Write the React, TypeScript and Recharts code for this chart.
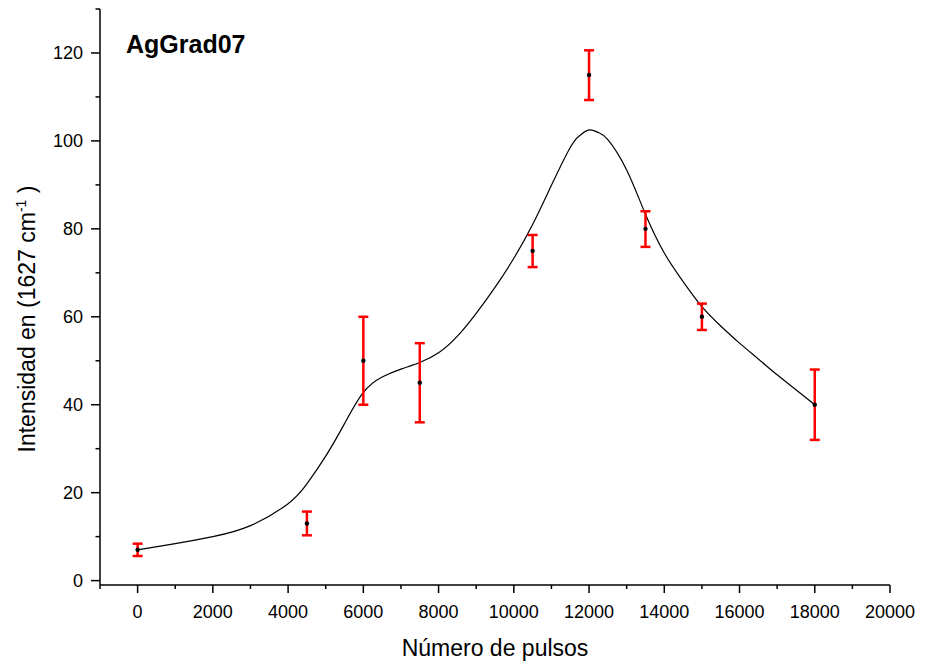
import React from "react";
import { ComposedChart, ErrorBar, Line, Scatter, XAxis, YAxis } from "recharts";

// measured points
const pulses = [0, 4500, 6000, 7500, 10500, 12000, 13500, 15000, 18000];
const intensity = [7, 13, 50, 45, 75, 115, 80, 60, 40];
const lowerBound = [5.6, 10.3, 40, 36, 71.3, 109.3, 75.9, 57, 32];
const upperBound = [8.4, 15.7, 60, 54, 78.6, 120.6, 84, 63, 48];

// fitted curve
const fitX = [
  0, 1000, 2000, 3000, 4000, 4500, 5000, 5500, 6000, 6500, 7000, 7500, 8000, 8500,
  9000, 9500, 10000, 10500, 11000, 11500, 11750, 12000, 12250, 12500, 13000, 13500,
  14000, 14500, 15000, 15500, 16000, 16500, 17000, 17500, 18000,
];
const fitY = [
  7, 8.4, 10, 12.5, 17.5, 22, 28.3, 35.7, 42.8, 46.3, 48.1, 49.6, 51.8, 55.6,
  60.8, 66.7, 73.3, 81, 89.9, 98.5, 101.2, 102.5, 101.9, 100.3, 93.4, 83.3,
  74.5, 68, 62.3, 57.9, 54, 50.4, 46.8, 43.4, 40,
];

const xTicks = [-1000, 0, 1000, 2000, 3000, 4000, 5000, 6000, 7000, 8000, 9000, 10000, 11000, 12000, 13000, 14000, 15000, 16000, 17000, 18000, 19000, 20000];
const yTicks = [0, 10, 20, 30, 40, 50, 60, 70, 80, 90, 100, 110, 120, 130];

const points = pulses.map((x, i) => ({
  x,
  y: intensity[i],
  err: [intensity[i] - lowerBound[i], upperBound[i] - intensity[i]],
}));
const curve = fitX.map((x, i) => ({ x, y: fitY[i] }));

const font = "'Liberation Sans', Arial, sans-serif";

const XTick = ({ x, y, payload }: any) => {
  const v = payload.value;
  const major = v % 2000 === 0;
  return (
    <g>
      <line x1={x} x2={x} y1={y} y2={y + (major ? 8 : 4)} stroke="#000" strokeWidth={1.5} />
      {major && v >= 0 && (
        <text x={x} y={y + 33} textAnchor="middle" fontSize={18} fontFamily={font} fill="#000">
          {v}
        </text>
      )}
    </g>
  );
};

const YTick = ({ x, y, payload }: any) => {
  const v = payload.value;
  const major = v % 20 === 0;
  return (
    <g>
      <line x1={x} x2={x - (major ? 9 : 4.5)} y1={y} y2={y} stroke="#000" strokeWidth={1.5} />
      {major && (
        <text x={x - 17} y={y + 6.5} textAnchor="end" fontSize={18} fontFamily={font} fill="#000">
          {v}
        </text>
      )}
    </g>
  );
};

export default function App() {
  return (
    <div style={{ position: "absolute", left: 0, top: 0, width: 925, height: 669, background: "#fff" }}>
      <ComposedChart width={925} height={669} margin={{ top: 9, right: 35, bottom: 0, left: 0 }}>
        <XAxis
          type="number"
          dataKey="x"
          domain={[-1000, 20000]}
          ticks={xTicks}
          interval={0}
          height={84}
          tickSize={0}
          tickMargin={0}
          tickLine={false}
          tick={<XTick />}
          axisLine={{ stroke: "#000", strokeWidth: 1.5 }}
          allowDataOverflow
          label={{
            content: () => (
              <text x={495} y={656} textAnchor="middle" fontSize={23} fontFamily={font} fill="#000">
                Número de pulsos
              </text>
            ),
          }}
        />
        <YAxis
          type="number"
          domain={[-1, 130]}
          ticks={yTicks}
          interval={0}
          width={100}
          tickSize={0}
          tickMargin={0}
          tickLine={false}
          tick={<YTick />}
          axisLine={{ stroke: "#000", strokeWidth: 1.5 }}
          allowDataOverflow
          label={{
            content: () => (
              <text
                transform="translate(35,319) rotate(-90)"
                textAnchor="middle"
                fontSize={23}
                fontFamily={font}
                fill="#000"
              >
                Intensidad en (1627 cm
                <tspan dy={-9} fontSize={14}>-1</tspan>
                <tspan dy={9}> )</tspan>
              </text>
            ),
          }}
        />
        <Line
          data={curve}
          dataKey="y"
          type="natural"
          stroke="#000"
          strokeWidth={1.2}
          dot={false}
          activeDot={false}
          isAnimationActive={false}
        />
        <Scatter
          data={points}
          dataKey="y"
          isAnimationActive={false}
          shape={(p: any) => <circle cx={p.cx} cy={p.cy} r={2.2} fill="#000" />}
        >
          <ErrorBar dataKey="err" direction="y" width={5} stroke="#ff0000" strokeWidth={2.5} isAnimationActive={false} />
        </Scatter>
      </ComposedChart>
      <svg style={{ position: "absolute", left: 0, top: 0, pointerEvents: "none" }} width={925} height={669}>
        <text x={126} y={53} fontSize={25} fontWeight="bold" fontFamily={font} fill="#000">
          AgGrad07
        </text>
      </svg>
    </div>
  );
}
